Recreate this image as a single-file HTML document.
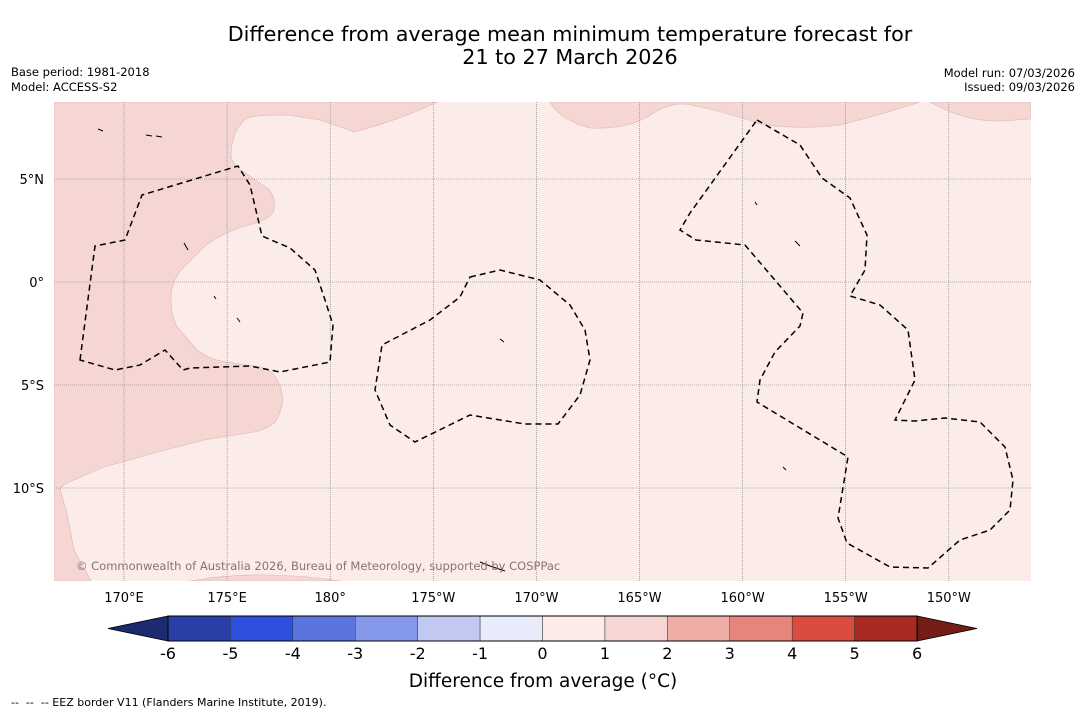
<!DOCTYPE html>
<html><head><meta charset="utf-8"><style>
body{margin:0;background:#fff;width:1085px;height:713px;overflow:hidden;font-family:"Liberation Sans","DejaVu Sans",sans-serif}
svg{position:absolute;left:0;top:0}
</style></head><body>
<svg width="1085" height="713" font-family="DejaVu Sans, Liberation Sans, sans-serif">
<text x="570" y="41" text-anchor="middle" font-size="20.7">Difference from average mean minimum temperature forecast for</text>
<text x="570" y="64" text-anchor="middle" font-size="20.7">21 to 27 March 2026</text>
<text x="11" y="76" font-size="11.5">Base period: 1981-2018</text>
<text x="11" y="91" font-size="11.5">Model: ACCESS-S2</text>
<text x="1075" y="77" font-size="11.5" text-anchor="end">Model run: 07/03/2026</text>
<text x="1075" y="91" font-size="11.5" text-anchor="end">Issued: 09/03/2026</text>
<defs><clipPath id="mc"><rect x="54" y="102" width="977" height="479"/></clipPath></defs>
<g clip-path="url(#mc)">
<rect x="54" y="102" width="977" height="479" fill="#fbebe9"/>
<path d="M54,102 L437,102 Q400,120 354,132 Q330,123 320,120 L287,115 Q255,115 247,118 Q231,130 231,157 Q235,168 241,170 L267,188 Q276,195 274,210 Q272,220 241,227 Q215,237 204,247 L181,270 Q170,285 171,300 Q171,315 177,327 L197,350 Q210,360 227,362 L261,367 Q275,373 277,380 Q284,392 282,405 Q278,420 274,423 Q265,430 254,432 L204,440 L154,453 L104,467 L67,483 Q58,488 61,493 L67,513 L74,550 L91,581 L54,581 Z" fill="#f5d6d3" stroke="#d9b8b5" stroke-width="0.6"/>
<path d="M550,102 Q560,120 590,128 Q630,130 655,112 Q670,103 685,104 Q720,110 760,124 Q800,130 840,125 Q880,115 920,102 Z" fill="#f5d6d3" stroke="#d9b8b5" stroke-width="0.6"/>
<path d="M930,102 Q965,122 1000,121 L1031,119 L1031,102 Z" fill="#f5d6d3" stroke="#d9b8b5" stroke-width="0.6"/>
<path d="M190,581 Q230,574 270,575 Q310,576 340,581 Z" fill="#f5d6d3" stroke="#d9b8b5" stroke-width="0.6"/>
<g id="grid" stroke="#777" stroke-width="0.6" stroke-dasharray="1,1"></g>
<g fill="none" stroke="#000" stroke-width="1.5" stroke-dasharray="6,4">
<path d="M80,360 L95,246 L125,240 L142,195 L238,166 L250,185 L262,236 L290,248 L315,270 L325,300 L333,325 L330,362 L280,372 L250,366 L190,368 L183,370 L165,350 L140,365 L115,370 Z"/>
<path d="M470,277 L500,270 L540,280 L570,305 L585,330 L590,360 L580,395 L558,424 L525,424 L470,415 L415,442 L390,425 L375,390 L382,345 L430,320 L460,297 Z"/>
<path d="M757,120 L800,145 L822,178 L850,198 L867,235 L865,270 L850,296 L880,305 L908,330 L915,380 L895,420 L915,421 L945,418 L980,422 L1005,447 L1013,480 L1010,510 L990,530 L960,540 L928,568 L890,567 L847,543 L838,518 L848,457 L757,402 L760,380 L775,352 L800,326 L803,313 L745,245 L696,240 L680,230 L690,213 Z"/>
</g>
<g fill="none" stroke="#000" stroke-width="1">
<path d="M146,135 L152,136 M156,136 L162,137 M98,129 L103,131 M184,243 L188,250 M500,339 L504,342 M783,467 L786,470 M795,241 L800,246 M480,562 L490,566 L505,571 M755,202 L757,205 M214,296 L216,299 M237,318 L240,322"/>
</g>
<text x="76" y="570" font-size="11.5" fill="#8a7370">© Commonwealth of Australia 2026, Bureau of Meteorology, supported by COSPPac</text>
</g>
<g id="axes" font-size="13"></g>
<g id="cbar"></g>
<text x="543" y="687" text-anchor="middle" font-size="18.5">Difference from average (°C)</text>
<text x="11" y="706" font-size="11" xml:space="preserve" style="white-space:pre">--  --  -- EEZ border V11 (Flanders Marine Institute, 2019).</text>
</svg>
<script>
const lonLabels=["170°E","175°E","180°","175°W","170°W","165°W","160°W","155°W","150°W"];
const lonValues=[170,175,180,185,190,195,200,205,210];
const latLabels=["5°N","0°","5°S","10°S"];
const latValues=[5,0,-5,-10];
const cbarTicks=[-6,-5,-4,-3,-2,-1,0,1,2,3,4,5,6];
const cbarColors=["#2a3fa8","#2f4fdd","#5a74e0","#8598ea","#c1c9f3","#e8ebf9","#fbebe9","#f5d6d3","#eeaea7","#e6857c","#da4c42","#a82a22"];
const NS="http://www.w3.org/2000/svg";
const xLon=v=>124+(v-170)*20.62;
const yLat=v=>282-v*20.6;
const xC=v=>168+(v+6)*62.42;
function mk(t,a,p){const e=document.createElementNS(NS,t);for(const k in a)e.setAttribute(k,a[k]);p.appendChild(e);return e;}
const grid=document.getElementById('grid'),axes=document.getElementById('axes'),cb=document.getElementById('cbar');
lonValues.forEach((v,i)=>{const x=xLon(v);
 const l=mk('line',{x1:x,x2:x,y1:102,y2:581},grid);
 
 
 const t=mk('text',{x:x,y:602,'text-anchor':'middle'},axes);t.textContent=lonLabels[i];
 
 });
latValues.forEach((v,i)=>{const y=yLat(v);
 const l=mk('line',{x1:54,x2:1031,y1:y,y2:y},grid);
 
 
 const t=mk('text',{x:44,y:y+5,'text-anchor':'end'},axes);t.textContent=latLabels[i];
 
 });
cbarColors.forEach((c,i)=>{const x0=xC(cbarTicks[i]),x1=xC(cbarTicks[i+1]);
 const r=mk('rect',{x:x0,y:616,width:x1-x0,height:25,fill:c,stroke:'#333','stroke-width':0.5},cb);
 
 });
const lt=mk('polygon',{points:`${xC(-6)},616 108,628.5 ${xC(-6)},641`,fill:'#1c2a70',stroke:'#000','stroke-width':0.8},cb);


const rt=mk('polygon',{points:`${xC(6)},616 977,628.5 ${xC(6)},641`,fill:'#741c16',stroke:'#000','stroke-width':0.8},cb);


mk('rect',{x:xC(-6),y:616,width:xC(6)-xC(-6),height:25,fill:'none',stroke:'#000','stroke-width':1},cb);
cbarTicks.forEach(v=>{const t=mk('text',{x:xC(v),y:659,'text-anchor':'middle','font-size':16},cb);t.textContent=v;
 
 });
</script>
</body></html>
